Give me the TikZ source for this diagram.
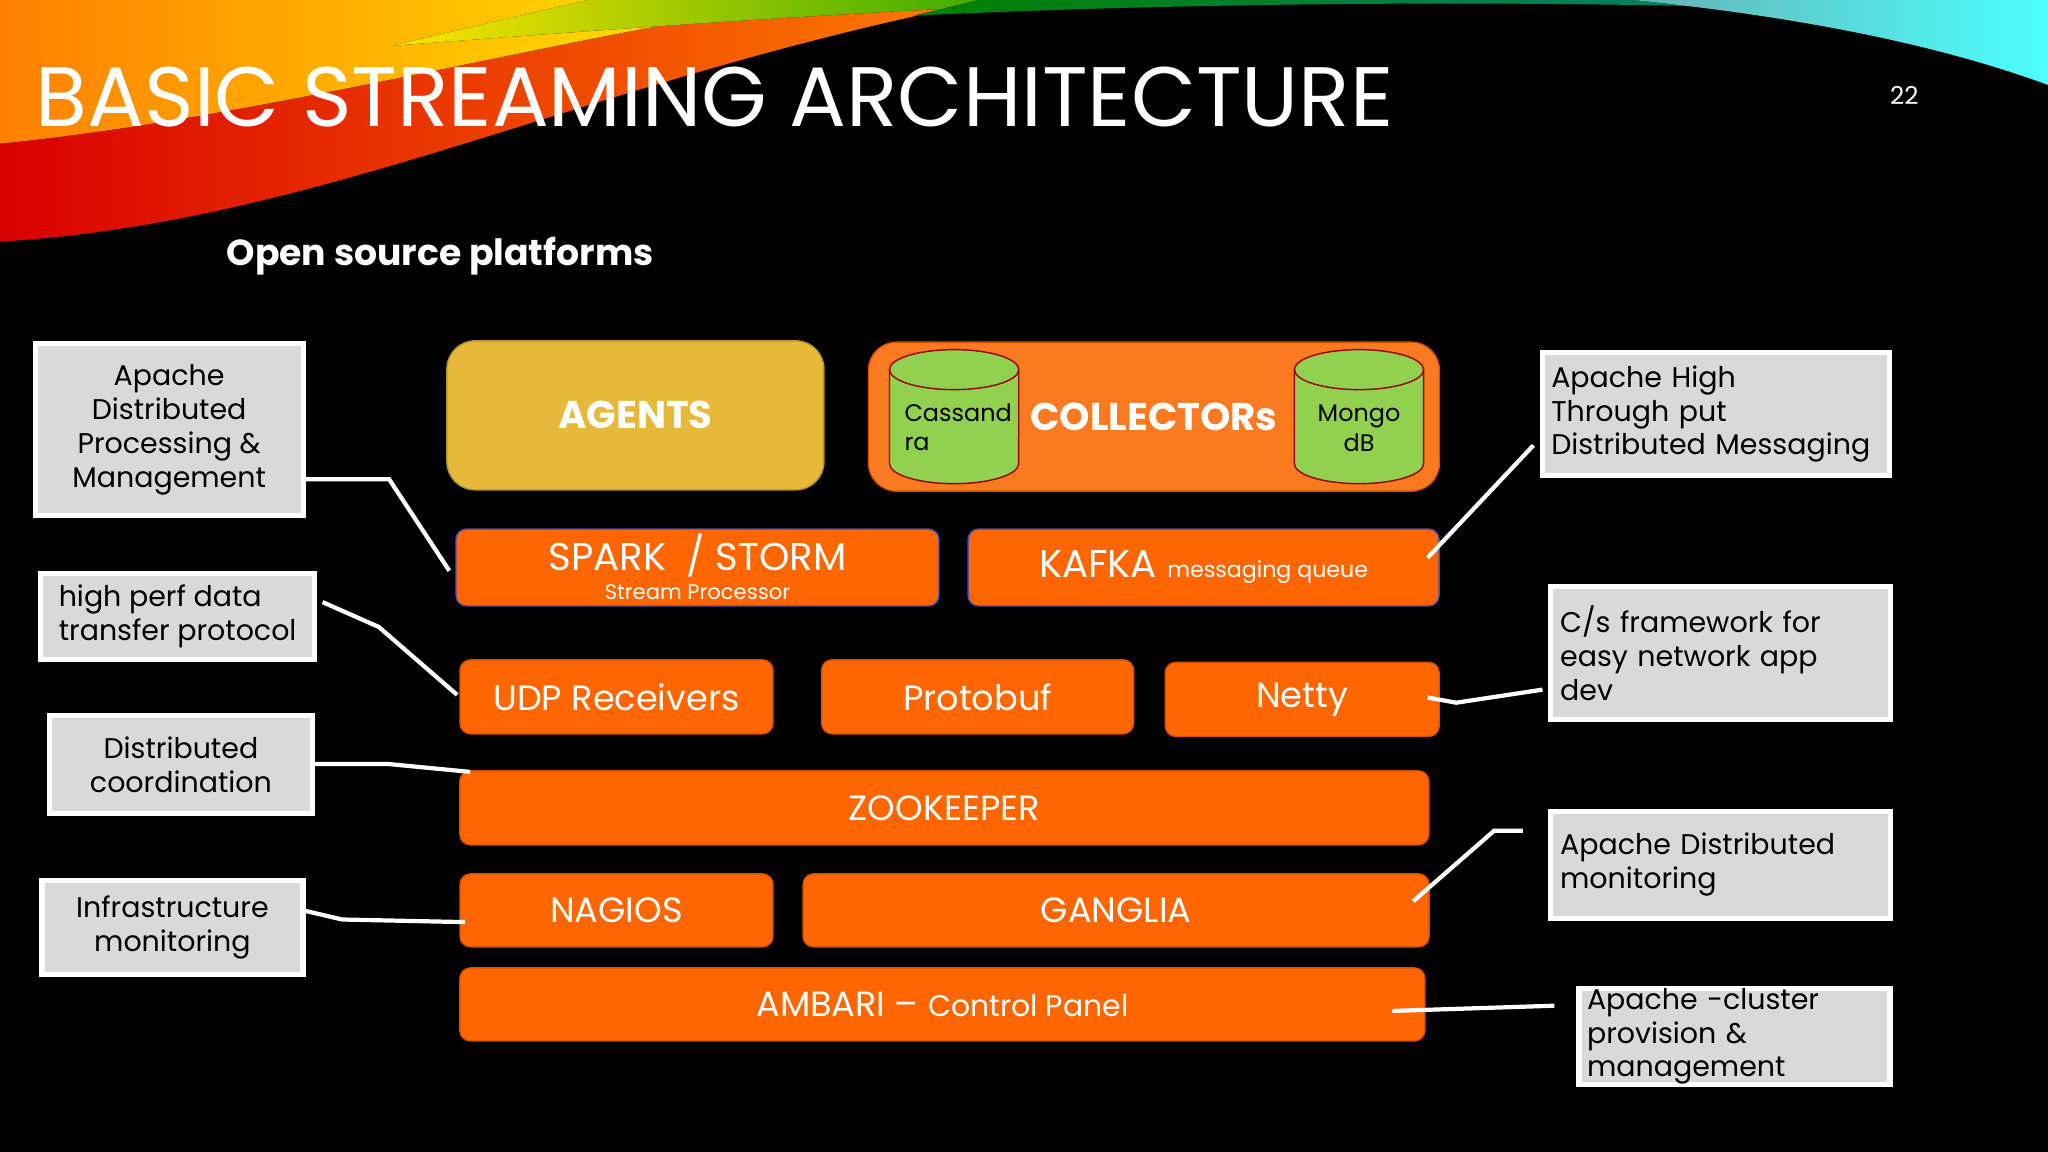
\documentclass[tikz,border=0pt]{standalone}
\usepackage{fontspec}
\setmainfont{Poppins}
\definecolor{org}{HTML}{FF6600}
\definecolor{orgb}{HTML}{D95000}
\definecolor{coll}{HTML}{FA7A22}
\definecolor{agent}{HTML}{E7B93A}
\definecolor{cyl}{HTML}{92D050}
\definecolor{gbox}{HTML}{D9D9D9}
\begin{document}
\begin{tikzpicture}[x=0.01306cm,y=-0.01306cm,
  gray box/.style={draw=white,line width=1.5pt,fill=gbox,text=black,font=\fontsize{8.1}{9.6}\selectfont,inner sep=0pt},
  bar/.style={draw=orgb,fill=org,rounded corners=3pt,text=white,font=\fontsize{10}{12}\selectfont,inner sep=0pt},
  link/.style={draw=white,line width=1.2pt}]
\fill[black] (0,0) rectangle (1568,882);
\useasboundingbox (0,0) rectangle (1568,882);
% rainbow swoosh
\fill[left color=red!85!black,right color=orange] (0,185) .. controls (250,170) and (450,60) .. (760,0) -- (0,0) -- cycle;
\fill[left color=orange,right color=yellow!90!orange] (0,110) .. controls (200,90) and (420,30) .. (620,0) -- (0,0) -- cycle;
\fill[left color=yellow!80!orange,right color=green!60!black] (300,35) .. controls (500,20) and (700,5) .. (900,0) -- (450,0) -- cycle;
\fill[left color=green!50!black,right color=teal] (700,12) .. controls (950,0) and (1250,0) .. (1450,10) -- (1400,0) -- (750,0) -- cycle;
\fill[left color=teal!60,right color=cyan!70] (1250,0) .. controls (1400,15) and (1500,40) .. (1568,65) -- (1568,0) -- cycle;
\node[text=white,font=\fontsize{24}{28}\selectfont,anchor=west,inner sep=0pt] (title) at (27,74) {BASIC STREAMING ARCHITECTURE};
\node[text=white,font=\fontsize{7}{8}\selectfont] (pg) at (1458,73) {22};
\node[text=white,font=\bfseries\fontsize{10.3}{12}\selectfont] (sub) at (337,196) {Open source platforms};
% top row
\node[draw=agent!80!black,fill=agent,rounded corners=8pt,minimum width=3.77cm,minimum height=1.49cm,text=white,font=\bfseries\fontsize{11}{13}\selectfont] (agents) at (486.5,318) {AGENTS};
\node[draw=orgb,fill=coll,rounded corners=8pt,minimum width=5.71cm,minimum height=1.49cm,text=white,font=\bfseries\fontsize{11}{13}\selectfont] (coll) at (883.5,319) {COLLECTORs};
% databases
\foreach \cx in {730.5,1040.5}{
  \fill[cyl] (\cx-49.5,283) rectangle (\cx+49.5,355);
  \fill[cyl] (\cx,355) ellipse [x radius=0.646cm,y radius=0.2cm];
  \draw[red!60!black,fill=cyl] (\cx,283) ellipse [x radius=0.646cm,y radius=0.2cm];
  \draw[red!60!black] (\cx-49.5,283) -- (\cx-49.5,355) arc[start angle=180,end angle=360,x radius=0.646cm,y radius=0.2cm] -- (\cx+49.5,283);
}
\node[font=\fontsize{6.8}{8.3}\selectfont,align=left,anchor=west,inner sep=0pt] (cast) at (692,327) {Cassand\\ra};
\node[font=\fontsize{6.8}{8.3}\selectfont,align=center,inner sep=0pt] (mont) at (1040.5,328) {Mongo\\dB};
% bars
\node[bar,draw=blue!40!gray,minimum width=4.83cm,minimum height=0.77cm] (spark) at (534,434.5) {};
\node[text=white,font=\fontsize{11}{13}\selectfont] (sparkt) at (534,425) {SPARK~ / STORM};
\node[text=white,font=\fontsize{6}{7}\selectfont] (sparks) at (534,453) {Stream Processor};
\node[bar,draw=blue!40!gray,minimum width=4.71cm,minimum height=0.77cm] (kafka) at (921.5,434.5) {\fontsize{11}{13}\selectfont KAFKA {\fontsize{6.3}{7}\selectfont messaging queue}};
\node[bar,minimum width=3.13cm,minimum height=0.74cm] (udp) at (472,533.5) {UDP Receivers};
\node[bar,minimum width=3.12cm,minimum height=0.74cm] (proto) at (748.5,533.5) {Protobuf};
\node[bar,minimum width=2.74cm,minimum height=0.74cm] (netty) at (997,535.5) {Netty};
\node[bar,minimum width=9.69cm,minimum height=0.74cm] (zoo) at (723,618.5) {ZOOKEEPER};
\node[bar,minimum width=3.13cm,minimum height=0.73cm] (nag) at (472,697) {NAGIOS};
\node[bar,minimum width=6.26cm,minimum height=0.73cm] (gang) at (854.5,697) {GANGLIA};
\node[bar,minimum width=9.65cm,minimum height=0.73cm] (amb) at (721.5,769) {AMBARI -- {\fontsize{8.5}{10}\selectfont Control Panel}};
% gray labels
\node[gray box,minimum width=2.68cm,minimum height=1.72cm,align=center] (g1) at (129.5,329) {Apache\\Distributed\\Processing \&\\Management};
\node[gray box,minimum width=2.74cm,minimum height=0.86cm,align=left] (g2) at (136,472) {high perf data\\transfer protocol};
\node[gray box,minimum width=2.63cm,minimum height=0.98cm,align=center] (g3) at (138.5,585.5) {Distributed\\coordination};
\node[gray box,minimum width=2.61cm,minimum height=0.94cm,align=center] (g4) at (132,710) {Infrastructure\\monitoring};
\node[gray box,minimum width=3.47cm,minimum height=1.23cm,align=left,text width=3.3cm] (g5) at (1314,317) {Apache High\\Through put\\Distributed Messaging};
\node[gray box,minimum width=3.40cm,minimum height=1.33cm,align=left,text width=3.2cm] (g6) at (1317,500) {C/s framework for\\easy network app\\dev};
\node[gray box,minimum width=3.40cm,minimum height=1.07cm,align=left,text width=3.2cm] (g7) at (1317,662) {Apache Distributed\\monitoring};
\node[gray box,minimum width=3.11cm,minimum height=0.95cm,align=left,text width=2.95cm] (g8) at (1328,793.5) {Apache -cluster\\provision \&\\management};
% connectors
\coordinate (c1) at (232,367); \coordinate (e1) at (344,437);
\coordinate (c2) at (247,461); \coordinate (e2) at (350,532);
\coordinate (c3) at (239,585); \coordinate (e3) at (360,591);
\coordinate (c4) at (232,697); \coordinate (e4) at (356,706);
\coordinate (c5) at (1174,341); \coordinate (e5) at (1093,427);
\coordinate (c6) at (1181,528); \coordinate (e6) at (1093,534);
\coordinate (c7) at (1166,636); \coordinate (e7) at (1082,690);
\coordinate (c8) at (1190,770); \coordinate (e8) at (1066,774);
\draw[link] (c1) -- (298,367) -- (e1);
\draw[link] (c2) -- (290,480) -- (e2);
\draw[link] (c3) -- (298,585) -- (e3);
\draw[link] (c4) -- (262,704) -- (e4);
\draw[link] (e5) -- (c5);
\draw[link] (e6) -- (1115,538) -- (c6);
\draw[link] (e7) -- (1144,636) -- (c7);
\draw[link] (e8) -- (c8);
\end{tikzpicture}
\end{document}
